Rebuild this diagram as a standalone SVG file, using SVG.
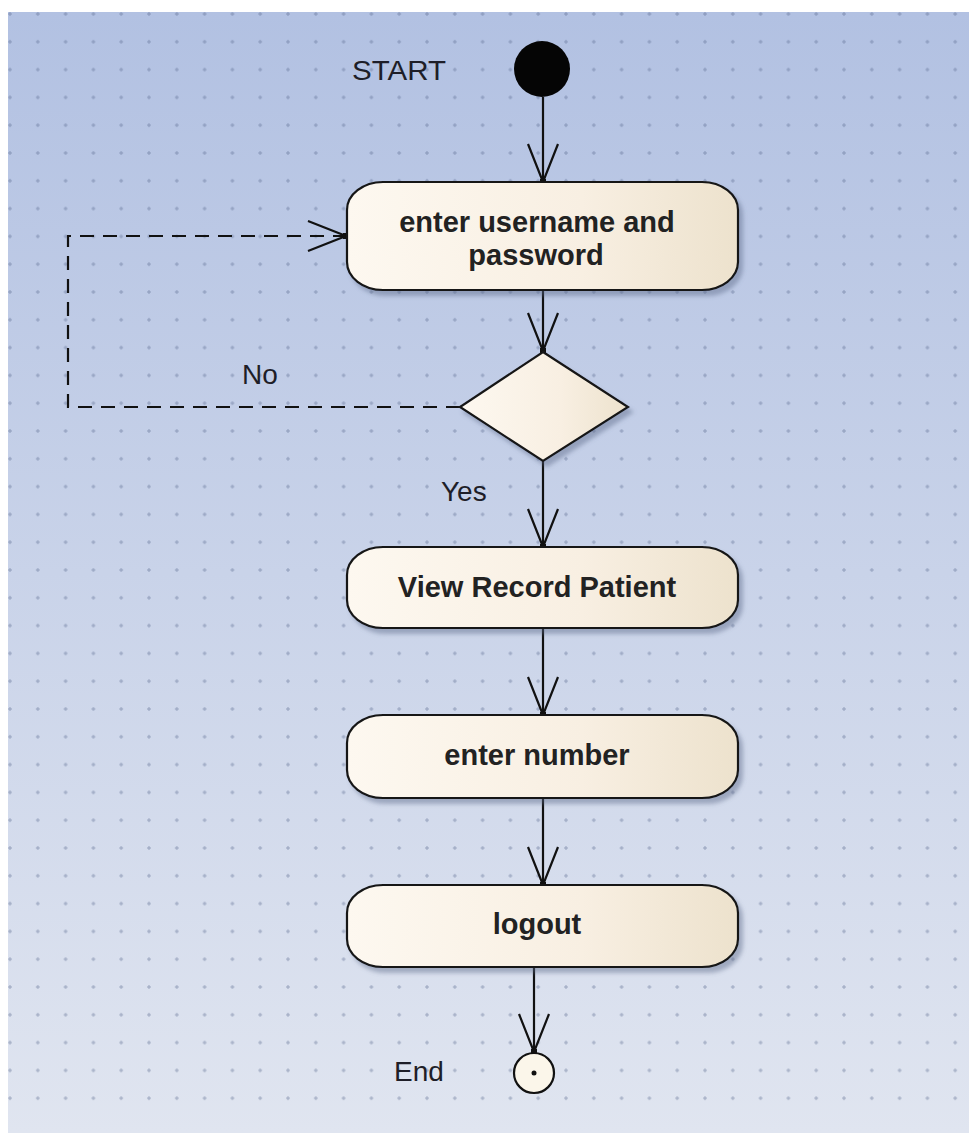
<svg xmlns="http://www.w3.org/2000/svg" width="969" height="1133" viewBox="0 0 969 1133">
  <defs>
    <linearGradient id="bg" x1="0" y1="0" x2="0" y2="1">
      <stop offset="0" stop-color="#b2c1e2"/>
      <stop offset="1" stop-color="#e0e5f0"/>
    </linearGradient>
    <linearGradient id="nodeFill" x1="0" y1="0" x2="1" y2="0">
      <stop offset="0" stop-color="#fdf8f0"/>
      <stop offset="0.6" stop-color="#f8efe2"/>
      <stop offset="1" stop-color="#ede2cd"/>
    </linearGradient>
    <pattern id="grid" x="10" y="14" width="27.8" height="27.8" patternUnits="userSpaceOnUse">
      <path d="M0,-2 V2 M-2,0 H2 M27.8,-2 V2 M25.8,0 H29.8 M0,25.8 V29.8 M-2,27.8 H2 M27.8,25.8 V29.8 M25.8,27.8 H29.8" stroke="#56658c" stroke-width="1" stroke-opacity="0.5"/>
    </pattern>
    <filter id="shadow" x="-10%" y="-10%" width="125%" height="135%">
      <feDropShadow dx="4" dy="5" stdDeviation="2" flood-color="#5b6786" flood-opacity="0.45"/>
    </filter>
    <marker id="openArrow" markerUnits="userSpaceOnUse" markerWidth="50" markerHeight="40" viewBox="-42 -20 50 40" refX="0" refY="0" orient="auto">
      <path d="M-38,-15 L0,0 L-38,15" fill="none" stroke="#111" stroke-width="2.2"/>
      <rect x="-3" y="-3" width="6" height="6" fill="#111"/>
    </marker>
  </defs>
  <style>
    .node { fill: url(#nodeFill); stroke: #151515; stroke-width: 2.2; filter: url(#shadow); }
    .label { font-family: "Liberation Sans", Arial, sans-serif; font-size: 28px; fill: #1e1e28; }
    .title { font-family: "Liberation Sans", Arial, sans-serif; font-size: 29px; font-weight: bold; fill: #222; text-anchor: middle; }
    .flow { fill: none; stroke: #111; stroke-width: 2.2; marker-end: url(#openArrow); }
    .dashed { stroke-dasharray: 14 9; }
  </style>

  <!-- canvas -->
  <rect x="0" y="0" width="969" height="1133" fill="#ffffff"/>
  <rect x="8" y="12" width="961" height="1121" fill="url(#bg)"/>
  <rect x="8" y="12" width="961" height="1106" fill="url(#grid)"/>

  <!-- connectors -->
  <g id="connectors">
    <path class="flow" d="M543,97 L543,182"/>
    <path class="flow" d="M543,291 L543,351"/>
    <path class="flow dashed" d="M460,407 L68,407 L68,236 L346,236"/>
    <path class="flow" d="M543,461 L543,547"/>
    <path class="flow" d="M543,629 L543,715"/>
    <path class="flow" d="M543,799 L543,885"/>
    <path class="flow" d="M534,968 L534,1052"/>
  </g>

  <!-- initial node -->
  <g id="start">
    <circle cx="542" cy="69" r="28" fill="#050505"/>
    <text class="label" x="352" y="80" textLength="94" lengthAdjust="spacingAndGlyphs">START</text>
  </g>

  <g id="login">
    <rect class="node" x="347" y="182" width="391" height="108" rx="36" ry="28"/>
    <text class="title" x="537" y="232">enter username and</text>
    <text class="title" x="536" y="265">password</text>
  </g>

  <g id="check">
    <polygon class="node" points="543,352 628,407 543,461 460,407"/>
    <text class="label" x="242" y="384">No</text>
    <text class="label" x="441" y="501">Yes</text>
  </g>

  <g id="view-record">
    <rect class="node" x="347" y="547" width="391" height="81" rx="36" ry="28"/>
    <text class="title" x="537" y="597">View Record Patient</text>
  </g>

  <g id="enter-number">
    <rect class="node" x="347" y="715" width="391" height="83" rx="36" ry="28"/>
    <text class="title" x="537" y="765">enter number</text>
  </g>

  <g id="logout">
    <rect class="node" x="347" y="885" width="391" height="82" rx="36" ry="28"/>
    <text class="title" x="537" y="934">logout</text>
  </g>

  <!-- final node -->
  <g id="end">
    <circle cx="534" cy="1073" r="20" fill="#fbf6ea" stroke="#111" stroke-width="2.2"/>
    <circle cx="534" cy="1073" r="2.5" fill="#111"/>
    <text class="label" x="394" y="1081">End</text>
  </g>
</svg>
